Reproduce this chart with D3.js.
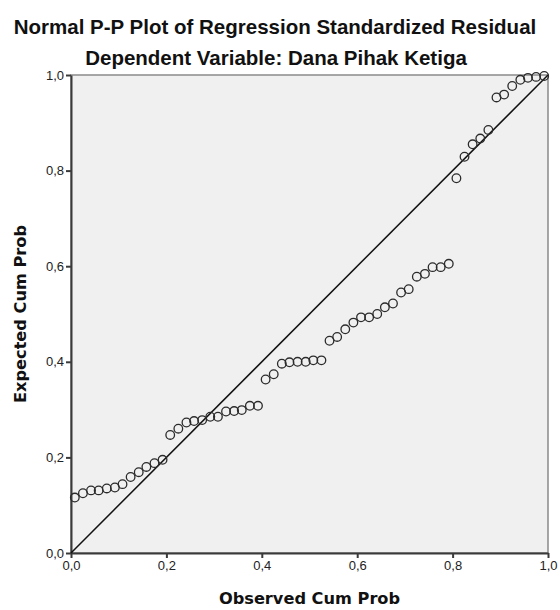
<!DOCTYPE html>
<html>
<head>
<meta charset="utf-8">
<script src="https://cdn.jsdelivr.net/npm/d3@7"></script>
<style>
  body { margin: 0; background: #fff; }
  svg { display: block; }
</style>
</head>
<body>
<svg id="viz"></svg>
<script>
// chart texts
const title = "Normal P-P Plot of Regression Standardized Residual";
const subtitle = "Dependent Variable: Dana Pihak Ketiga";
const xTitle = "Observed Cum Prob";
const yTitle = "Expected Cum Prob";

// tick values and their labels (comma decimals as in the original)
const tickValues = [0, 0.2, 0.4, 0.6, 0.8, 1.0];
const tickLabels = ["0,0", "0,2", "0,4", "0,6", "0,8", "1,0"];

// observed cumulative probability
const observed = [
  0.008, 0.025, 0.042, 0.058, 0.075, 0.092, 0.108, 0.125, 0.142, 0.158,
  0.175, 0.192, 0.208, 0.225, 0.242, 0.258, 0.275, 0.292, 0.308, 0.325,
  0.342, 0.358, 0.375, 0.392, 0.408, 0.425, 0.442, 0.458, 0.475, 0.492,
  0.508, 0.525, 0.542, 0.558, 0.575, 0.592, 0.608, 0.625, 0.642, 0.658,
  0.675, 0.692, 0.708, 0.725, 0.742, 0.758, 0.775, 0.792, 0.808, 0.825,
  0.842, 0.858, 0.875, 0.892, 0.908, 0.925, 0.942, 0.958, 0.975, 0.992
];

// expected cumulative probability
const expected = [
  0.116, 0.125, 0.131, 0.131, 0.135, 0.137, 0.144, 0.159, 0.169, 0.180,
  0.188, 0.195, 0.247, 0.260, 0.273, 0.276, 0.278, 0.285, 0.285, 0.296,
  0.297, 0.299, 0.308, 0.308, 0.363, 0.374, 0.396, 0.399, 0.400, 0.400,
  0.403, 0.403, 0.444, 0.452, 0.468, 0.482, 0.493, 0.493, 0.500, 0.514,
  0.522, 0.545, 0.552, 0.578, 0.584, 0.598, 0.598, 0.605, 0.784, 0.829,
  0.855, 0.867, 0.885, 0.953, 0.959, 0.977, 0.990, 0.994, 0.996, 0.998
];

const width = 560, height = 610;
const margin = {top: 75, right: 12, bottom: 57, left: 71};

const svg = d3.select("#viz")
  .attr("width", width)
  .attr("height", height);

const x = d3.scaleLinear().domain([0, 1]).range([margin.left, width - margin.right]);
const y = d3.scaleLinear().domain([0, 1]).range([height - margin.bottom, margin.top]);

// plot background with a thin grey frame
svg.append("rect")
  .attr("x", x(0))
  .attr("y", y(1))
  .attr("width", x(1) - x(0))
  .attr("height", y(0) - y(1))
  .attr("fill", "#f0f0f0")
  .attr("stroke", "#8a8a8a")
  .attr("stroke-width", 1.5);

// axes
const xAxis = d3.axisBottom(x)
  .tickValues(tickValues)
  .tickFormat((d, i) => tickLabels[i])
  .tickSizeInner(5).tickSizeOuter(0).tickPadding(3);

const yAxis = d3.axisLeft(y)
  .tickValues(tickValues)
  .tickFormat((d, i) => tickLabels[i])
  .tickSizeInner(5).tickSizeOuter(0).tickPadding(2);

const gx = svg.append("g")
  .attr("transform", "translate(0," + y(0) + ")")
  .call(xAxis);

const gy = svg.append("g")
  .attr("transform", "translate(" + x(0) + ",0)")
  .call(yAxis);

[gx, gy].forEach(g => {
  g.select(".domain").attr("stroke", "#3a3a3a").attr("stroke-width", 2);
  g.selectAll(".tick line").attr("stroke", "#3a3a3a").attr("stroke-width", 2);
  g.selectAll(".tick text")
    .attr("fill", "#222")
    .style("font-family", "'Liberation Sans', Arial, sans-serif")
    .style("font-size", "13px");
});

// reference diagonal
svg.append("line")
  .attr("x1", x(0)).attr("y1", y(0))
  .attr("x2", x(1)).attr("y2", y(1))
  .attr("stroke", "#111")
  .attr("stroke-width", 1.5);

// points
const points = observed.map((d, i) => ({obs: d, exp: expected[i]}));

svg.selectAll("circle.pt")
  .data(points)
  .enter()
  .append("circle")
  .attr("class", "pt")
  .attr("cx", d => x(d.obs))
  .attr("cy", d => y(d.exp))
  .attr("r", 4.3)
  .attr("fill", "none")
  .attr("stroke", "#2b2b2b")
  .attr("stroke-width", 1.3);

// titles
svg.append("text")
  .attr("x", 275).attr("y", 34)
  .attr("text-anchor", "middle")
  .attr("fill", "#111")
  .style("font-family", "'Liberation Sans', Arial, sans-serif")
  .style("font-size", "20.5px")
  .style("font-weight", "bold")
  .text(title);

svg.append("text")
  .attr("x", 276).attr("y", 65)
  .attr("text-anchor", "middle")
  .attr("fill", "#111")
  .style("font-family", "'Liberation Sans', Arial, sans-serif")
  .style("font-size", "20.5px")
  .style("font-weight", "bold")
  .text(subtitle);

svg.append("text")
  .attr("x", (x(0) + x(1)) / 2).attr("y", 604)
  .attr("text-anchor", "middle")
  .attr("fill", "#111")
  .style("font-family", "'DejaVu Sans', Verdana, sans-serif")
  .style("font-size", "16.2px")
  .style("font-weight", "bold")
  .text(xTitle);

svg.append("text")
  .attr("transform", "translate(26," + (y(0) + y(1)) / 2 + ") rotate(-90)")
  .attr("text-anchor", "middle")
  .attr("fill", "#111")
  .style("font-family", "'DejaVu Sans', Verdana, sans-serif")
  .style("font-size", "16.2px")
  .style("font-weight", "bold")
  .text(yTitle);
</script>
</body>
</html>
